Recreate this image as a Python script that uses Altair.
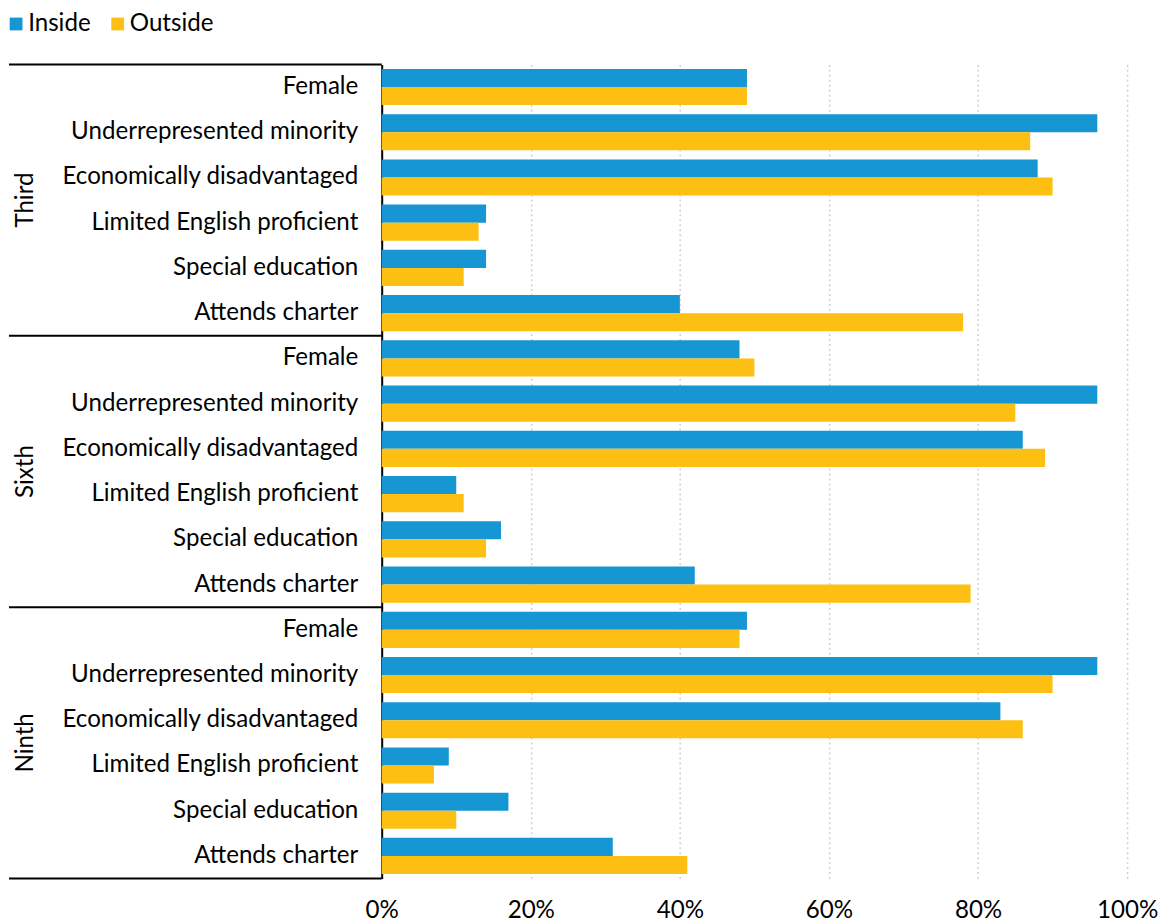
import altair as alt
import pandas as pd

groups = ["Third", "Sixth", "Ninth"]
categories = ["Female", "Underrepresented minority", "Economically disadvantaged",
              "Limited English proficient", "Special education", "Attends charter"]
series = ["Inside", "Outside"]
inside = {
    "Third": [49, 96, 88, 14, 14, 40],
    "Sixth": [48, 96, 86, 10, 16, 42],
    "Ninth": [49, 96, 83, 9, 17, 31],
}
outside = {
    "Third": [49, 87, 90, 13, 11, 78],
    "Sixth": [50, 85, 89, 11, 14, 79],
    "Ninth": [48, 90, 86, 7, 10, 41],
}
x_ticks = [0, 0.2, 0.4, 0.6, 0.8, 1.0]
colors = ["#1696d2", "#fdbf11"]

FONT = "Lato"
FS = 24.2
W, H = 748, 817
N = len(groups) * len(categories)
STEP = H / N
PAD_IN = 0.2

rows = []
keys = []
for g in groups:
    for i, c in enumerate(categories):
        k = f"{g}|{c}"
        keys.append(k)
        rows.append({"key": k, "group": g, "category": c, "series": "Inside", "value": inside[g][i] / 100})
        rows.append({"key": k, "group": g, "category": c, "series": "Outside", "value": outside[g][i] / 100})
df = pd.DataFrame(rows)

ysc = alt.Scale(domain=keys, paddingInner=PAD_IN, paddingOuter=PAD_IN / 2)

bars = alt.Chart(df).mark_bar().encode(
    x=alt.X("value:Q", scale=alt.Scale(domain=[0, 1]),
            axis=alt.Axis(values=x_ticks, format=".0%", title=None, domain=False, ticks=False,
                          labelFont=FONT, labelFontSize=FS, labelColor="#000000", labelPadding=20,
                          labelFlush=False,
                          grid=True, gridColor="#cfcfcf", gridDash=[2, 3], gridWidth=1.5)),
    y=alt.Y("key:N", scale=ysc, sort=keys,
            axis=alt.Axis(title=None, ticks=False, domain=True, domainColor="#000000", domainWidth=2,
                          labelExpr="split(datum.value, '|')[1]", labelFont=FONT, labelFontSize=FS,
                          labelColor="#000000", labelPadding=24, labelLimit=400)),
    yOffset=alt.YOffset("series:N", sort=series),
    color=alt.Color("series:N", sort=series, scale=alt.Scale(domain=series, range=colors),
                    legend=alt.Legend(title=None, orient="none", legendX=-374, legendY=-53,
                                      direction="horizontal", symbolType="square", symbolSize=165,
                                      symbolStrokeWidth=0, symbolOffset=-5, labelFont=FONT,
                                      labelFontSize=FS, labelColor="#000000", columnPadding=20,
                                      labelOffset=0, padding=0)),
)

grp_df = pd.DataFrame({"group": groups, "first": [f"{g}|{categories[0]}" for g in groups],
                       "mid": [f"{g}|{categories[3]}" for g in groups]})

top_rules = alt.Chart(grp_df).mark_rule(color="#000000", strokeWidth=2, yOffset=-STEP * PAD_IN / 2).encode(
    y=alt.Y("first:N", scale=ysc, sort=keys, bandPosition=0),
    x=alt.value(-374), x2=alt.value(0),
)
bottom_rule = alt.Chart(pd.DataFrame({"last": [keys[-1]]})).mark_rule(
    color="#000000", strokeWidth=2, yOffset=STEP * PAD_IN / 2).encode(
    y=alt.Y("last:N", scale=ysc, sort=keys, bandPosition=1),
    x=alt.value(-374), x2=alt.value(0),
)
group_labels = alt.Chart(grp_df).mark_text(
    angle=270, align="center", baseline="middle", font=FONT, fontSize=FS, color="#000000",
    yOffset=-STEP * PAD_IN / 2).encode(
    y=alt.Y("mid:N", scale=ysc, sort=keys, bandPosition=0),
    x=alt.value(-357),
    text="group:N",
)

chart = alt.layer(bars, top_rules, bottom_rule, group_labels).properties(
    width=W, height=H, padding={"left": 0, "top": 2, "right": 4, "bottom": 0}
).configure_view(stroke=None).configure_axis(labelFont=FONT)

chart.save("out.html", embed_options={"renderer": "svg", "actions": False})
